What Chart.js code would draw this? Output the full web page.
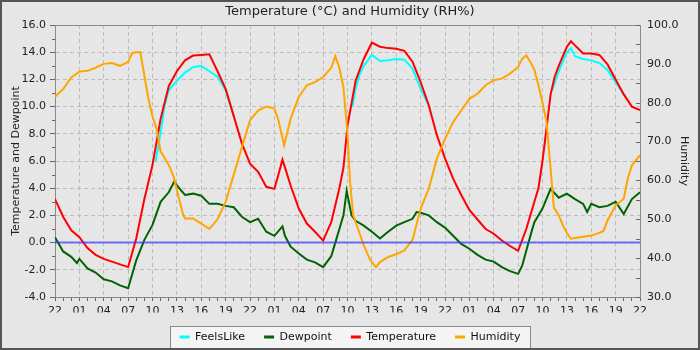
<!DOCTYPE html>
<html>
<head>
<meta charset="utf-8">
<title>Temperature and Humidity</title>
<script src="https://cdn.jsdelivr.net/npm/chart.js@4.4.1/dist/chart.umd.min.js"></script>
<style>
  html, body { margin: 0; padding: 0; background: #e6e6e6; }
  #frame { width: 700px; height: 350px; box-sizing: border-box; border: 2px solid #555; background: #e6e6e6; }
  canvas { display: block; }
</style>
</head>
<body>
<div id="frame"><canvas id="chart" width="696" height="346"></canvas></div>
<script>
// hours counted from 22:00 on the first day
const startHour = 22;
const spanHours = 72;

const tempHours = [0, 1, 2, 3, 4, 5, 6, 7, 8, 9, 10, 11, 12, 13, 14, 15, 16, 17, 18, 19, 20, 21, 22, 23,
  24, 25, 26, 27, 27.5, 28, 29, 30, 31, 32, 33, 34, 35, 35.5, 36, 37, 38, 39, 40, 41, 42, 43, 44, 45, 46, 47,
  48, 49, 50, 51, 52, 53, 54, 55, 56, 57, 58, 59, 59.5, 60, 61, 61.5, 62, 63, 63.5, 64, 65, 66, 67, 68, 69, 70, 71, 72];
const tempValues = [3.2, 1.9, 0.9, 0.4, -0.4, -0.9, -1.2, -1.4, -1.6, -1.8, 0.3, 3.2, 5.7, 9.1, 11.5, 12.6, 13.4, 13.75, 13.8, 13.85, 12.6, 11.3, 9.3, 7.3,
  5.8, 5.2, 4.1, 3.95, 5.0, 6.1, 4.2, 2.5, 1.4, 0.8, 0.15, 1.5, 4.0, 5.5, 8.6, 11.9, 13.5, 14.7, 14.4, 14.3, 14.25, 14.1, 13.3, 11.8, 10.1, 7.9,
  6.2, 4.7, 3.5, 2.4, 1.7, 1.0, 0.65, 0.15, -0.25, -0.6, 1.0, 3.0, 4.0, 6.0, 10.9, 12.2, 13.0, 14.4, 14.8, 14.5, 13.9, 13.9, 13.8, 13.1, 12.0, 10.9, 10.0, 9.75];

const feelsHours = [12.4, 13, 13.5, 14, 15, 16, 17, 18, 19, 20, 21, 22, 22.5,
  36.6, 37, 37.5, 38, 39, 40, 41, 42, 43, 44, 45, 46, 46.5,
  61.2, 62, 63, 63.5, 64, 65, 66, 67, 68, 69, 70];
const feelsValues = [6.0, 8.1, 10.1, 11.2, 11.9, 12.5, 12.9, 13.0, 12.6, 12.2, 11.2, 9.3, null,
  10.0, 11.3, 12.4, 13.0, 13.8, 13.35, 13.4, 13.5, 13.45, 12.8, 11.3, 10.1, null,
  11.2, 12.6, 14.0, 14.3, 13.7, 13.5, 13.4, 13.2, 12.7, 11.8, 10.9];

const dewHours = [0, 1, 2, 2.7, 3, 4, 5, 6, 7, 8, 9, 10, 11, 12, 13, 14, 14.7, 15, 16, 17, 18, 19, 20, 21, 22, 23,
  24, 25, 26, 27, 28, 28.3, 29, 30, 31, 32, 33, 34, 34.5, 35, 35.5, 35.9, 36.5, 37, 38, 39, 40, 41, 42, 43, 44, 44.5, 45, 46, 47,
  48, 49, 50, 51, 52, 53, 54, 55, 56, 57, 57.5, 58, 58.7, 59, 60, 61, 62, 63, 64, 65, 65.5, 66, 67, 68, 69, 70, 71, 72];
const dewValues = [0.4, -0.65, -1.05, -1.5, -1.2, -1.9, -2.2, -2.7, -2.85, -3.15, -3.35, -1.3, 0.2, 1.3, 3.0, 3.7, 4.5, 4.2, 3.5, 3.6, 3.45, 2.85, 2.85, 2.7, 2.6, 1.9,
  1.5, 1.75, 0.8, 0.5, 1.2, 0.5, -0.3, -0.8, -1.25, -1.45, -1.8, -1.0, 0.0, 1.0, 2.0, 3.8, 2.0, 1.6, 1.25, 0.8, 0.3, 0.8, 1.25, 1.5, 1.75, 2.25, 2.2, 2.0, 1.5,
  1.1, 0.5, -0.1, -0.45, -0.9, -1.25, -1.4, -1.8, -2.1, -2.3, -1.7, -0.6, 0.9, 1.5, 2.5, 3.95, 3.3, 3.6, 3.2, 2.85, 2.25, 2.85, 2.6, 2.7, 3.0, 2.1, 3.2, 3.7];

const humHours = [0, 1, 2, 3, 4, 5, 6, 7, 8, 9, 9.5, 10, 10.5, 11, 11.5, 12, 12.5, 13, 14, 14.6, 15.2, 15.8, 16, 17, 18, 19, 20, 21, 22, 23,
  24, 25, 26, 27, 27.5, 28.2, 29, 30, 31, 32, 33, 34, 34.5, 35, 35.5, 36, 36.3, 36.7, 37, 38, 38.8, 39.5, 40, 41, 42, 43, 44, 45, 46, 47,
  48, 49, 50, 51, 52, 53, 54, 55, 56, 57, 57.5, 58, 58.5, 59, 59.5, 60, 60.5, 61, 61.4, 62, 62.5, 63, 63.5, 64, 65, 66, 67, 67.5, 68, 69, 70, 70.5, 71, 72];
const humValues = [81.5, 83.5, 86.5, 88.0, 88.2, 89.0, 90.0, 90.2, 89.5, 90.5, 92.8, 93.0, 93.0, 87.0, 81.0, 76.5, 73.3, 67.5, 64.0, 61.0, 55.8, 51.0, 50.2, 50.2, 48.9, 47.5, 50.0, 54.5, 61.5, 68.5,
  75.5, 78.0, 79.0, 78.5, 75.5, 69.0, 75.9, 81.5, 84.5, 85.3, 86.6, 89.0, 92.0, 89.0, 84.0, 72.0, 60.0, 51.0, 49.3, 43.3, 39.5, 37.7, 39.0, 40.3, 41.0, 42.0, 44.7, 52.7, 57.9, 65.6,
  70.7, 75.0, 78.0, 81.0, 82.3, 84.5, 85.8, 86.2, 87.5, 89.2, 91.3, 92.2, 90.5, 88.5, 84.5, 80.0, 75.0, 63.0, 53.0, 51.0, 48.5, 46.5, 45.0, 45.2, 45.5, 45.8, 46.5, 47.0, 49.7, 53.6, 55.3, 60.5, 63.9, 66.5];

const leftTicks = { min: -4, max: 16, step: 1, labelEvery: 2 };
const rightTicks = { min: 30, max: 100, step: 5, labelEvery: 10 };

const FONT = 'DejaVu Sans';
const gridGrey = '#bdbdbd';
const axisGrey = '#8a8a8a';
const tickGrey = '#666';

function points(hours, values) {
  return hours.map((h, i) => ({ x: h, y: values[i] }));
}

function hourLabel(v) {
  return String((startHour + v) % 24).padStart(2, '0');
}

function line(label, hours, values, color, axis, order) {
  return {
    label: label,
    data: points(hours, values),
    borderColor: color,
    backgroundColor: color,
    borderWidth: 2,
    pointRadius: 0,
    tension: 0,
    spanGaps: false,
    yAxisID: axis,
    order: order
  };
}

function hline(ctx, x0, x1, y) {
  ctx.beginPath();
  ctx.moveTo(x0, y);
  ctx.lineTo(x1, y);
  ctx.stroke();
}

// frame on top of the plot, zero line over the data, short minor ticks, box behind the legend
const extras = {
  id: 'extras',
  beforeDraw(chart) {
    const lg = chart.legend;
    if (!lg || !lg.legendHitBoxes.length) return;
    const boxes = lg.legendHitBoxes;
    const first = boxes[0], last = boxes[boxes.length - 1];
    const ctx = chart.ctx;
    const x0 = Math.round(first.left - 10) + 0.5;
    const x1 = Math.round(last.left + last.width + 10) + 0.5;
    const y0 = Math.round(first.top - 6) + 0.5;
    ctx.save();
    ctx.fillStyle = '#f4f4f4';
    ctx.strokeStyle = axisGrey;
    ctx.lineWidth = 1;
    ctx.fillRect(x0, y0, x1 - x0, chart.height - y0 + 2);
    ctx.strokeRect(x0, y0, x1 - x0, chart.height - y0 + 2);
    ctx.restore();
  },
  afterDatasetsDraw(chart) {
    const ctx = chart.ctx;
    const area = chart.chartArea;
    const yScale = chart.scales.y;
    const y1Scale = chart.scales.y1;
    ctx.save();
    ctx.strokeStyle = 'rgba(60, 60, 255, 0.7)';
    ctx.lineWidth = 2;
    hline(ctx, area.left, area.right, yScale.getPixelForValue(0));

    ctx.strokeStyle = axisGrey;
    ctx.lineWidth = 1;
    hline(ctx, area.left, area.right, Math.round(area.top) + 0.5);

    ctx.strokeStyle = tickGrey;
    const left = Math.round(area.left);
    yScale.ticks.forEach(t => {
      if (t.value % leftTicks.labelEvery !== 0) {
        const y = Math.round(yScale.getPixelForValue(t.value)) + 0.5;
        hline(ctx, left - 3, left, y);
      }
    });
    const right = Math.round(area.right);
    y1Scale.ticks.forEach(t => {
      const y = Math.round(y1Scale.getPixelForValue(t.value)) + 0.5;
      hline(ctx, right - 4, right, y);
    });
    ctx.restore();
  }
};

new Chart(document.getElementById('chart'), {
  type: 'line',
  data: {
    datasets: [
      line('FeelsLike', feelsHours, feelsValues, '#00ffff', 'y', 4),
      line('Dewpoint', dewHours, dewValues, '#006400', 'y', 3),
      line('Temperature', tempHours, tempValues, '#ff0000', 'y', 2),
      line('Humidity', humHours, humValues, '#ffa500', 'y1', 1)
    ]
  },
  options: {
    responsive: false,
    animation: false,
    events: [],
    layout: { padding: 0 },
    scales: {
      x: {
        type: 'linear',
        min: 0,
        max: spanHours,
        afterFit: s => { s.height = 15.5; },
        ticks: {
          stepSize: 1,
          autoSkip: false,
          maxRotation: 0,
          padding: 4,
          color: '#222',
          font: { family: FONT, size: 11 },
          callback: v => (v % 3 === 0 ? hourLabel(v) : '')
        },
        grid: {
          color: c => (c.tick && c.tick.value % 3 === 0 ? gridGrey : 'transparent'),
          tickColor: tickGrey,
          tickLength: 4
        },
        border: { color: axisGrey, dash: [4, 3] }
      },
      y: {
        position: 'left',
        min: leftTicks.min,
        max: leftTicks.max,
        afterFit: s => { s.width = 53; },
        ticks: {
          stepSize: leftTicks.step,
          autoSkip: false,
          padding: 4,
          color: '#222',
          font: { family: FONT, size: 11 },
          callback: v => (v % leftTicks.labelEvery === 0 ? v.toFixed(1) : '')
        },
        grid: {
          color: c => (c.tick && c.tick.value % leftTicks.labelEvery === 0 ? gridGrey : 'transparent'),
          tickColor: c => (c.tick && c.tick.value % leftTicks.labelEvery === 0 ? tickGrey : 'transparent'),
          tickLength: 5
        },
        border: { color: axisGrey, dash: [4, 3] },
        title: {
          display: true,
          text: 'Temperature and Dewpoint',
          color: '#222',
          font: { family: FONT, size: 11 },
          padding: { top: 8, bottom: 0 }
        }
      },
      y1: {
        position: 'right',
        min: rightTicks.min,
        max: rightTicks.max,
        afterFit: s => { s.width = 58; },
        ticks: {
          stepSize: rightTicks.step,
          autoSkip: false,
          padding: 7,
          color: '#222',
          font: { family: FONT, size: 11 },
          callback: v => (v % rightTicks.labelEvery === 0 ? v.toFixed(1) : '')
        },
        grid: { drawOnChartArea: false, drawTicks: false },
        border: { color: axisGrey },
        title: {
          display: true,
          text: 'Humidity',
          color: '#222',
          font: { family: FONT, size: 11 },
          padding: { top: 8, bottom: 0 }
        }
      }
    },
    plugins: {
      title: {
        display: true,
        text: 'Temperature (°C) and Humidity (RH%)',
        color: '#222',
        font: { family: FONT, size: 13, weight: 'normal' },
        padding: { top: 2, bottom: 5.4 }
      },
      legend: {
        position: 'bottom',
        align: 'center',
        maxHeight: 35.5,
        labels: {
          boxWidth: 10,
          boxHeight: 3,
          padding: 19,
          color: '#111',
          font: { family: FONT, size: 11 },
          sort: (a, b) => a.datasetIndex - b.datasetIndex,
          generateLabels: chart => Chart.defaults.plugins.legend.labels.generateLabels(chart)
            .map(l => Object.assign(l, { fillStyle: l.strokeStyle, lineWidth: 0 }))
        }
      },
      tooltip: { enabled: false }
    }
  },
  plugins: [extras]
});
</script>
</body>
</html>
